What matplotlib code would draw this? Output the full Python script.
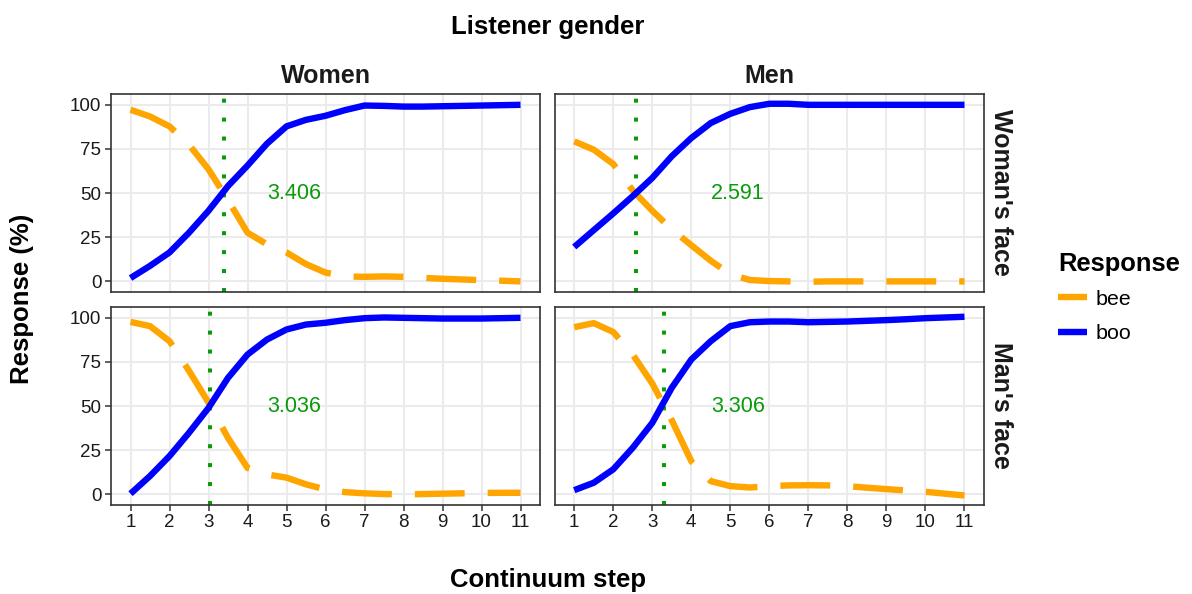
import numpy as np
import matplotlib
matplotlib.use('Agg')
import matplotlib.pyplot as plt

plt.rcParams['font.family'] = ['Liberation Sans', 'DejaVu Sans']

# continuum steps (values read every half step)
steps = np.arange(1, 11.5, 0.5)
listeners = ['Women', 'Men']
faces = ["Woman's face", "Man's face"]

# women listeners, woman's face
bee_w_wf = [97.2, 93.4, 87.8, 77.4, 63.5, 46, 27.6, 21, 16.4, 9.8, 5, 2.8, 2.6, 2.8, 2.6, 2, 1.5, 1.1, 0.7, 0.4, 0]
boo_w_wf = [1.9, 8.8, 16.4, 27.6, 40, 54, 65.6, 78, 87.8, 91.5, 93.8, 97, 99.6, 99.4, 99, 99, 99.2, 99.4, 99.6, 99.8, 100]
# men listeners, woman's face
bee_m_wf = [79.3, 74.6, 66.5, 51.5, 40, 29.5, 20.5, 11.7, 4, 0.8, 0.2, 0, -0.2, 0, 0, 0, 0, 0, 0, 0, 0]
boo_m_wf = [19.5, 29, 38.5, 48.3, 58.6, 70.9, 81.2, 89.7, 94.9, 98.7, 100.6, 100.6, 100, 100, 100, 100, 100, 100, 100, 100, 100]
# women listeners, man's face
bee_w_mf = [97.7, 95.3, 86.8, 70, 52, 32, 15, 11.3, 9.5, 5.7, 2.8, 1.3, 0.6, 0.2, 0, 0.2, 0.4, 0.6, 0.8, 0.9, 0.9]
boo_w_mf = [0.4, 10.4, 21.7, 34.9, 49, 66, 79.2, 87.7, 93.4, 96.2, 97.2, 98.7, 99.8, 100.2, 100, 99.8, 99.6, 99.6, 99.6, 99.8, 100]
# men listeners, man's face
bee_m_mf = [94.7, 97, 92, 79.2, 62.8, 42, 18.8, 7.5, 4.7, 3.9, 4.7, 5.1, 5.2, 5.1, 4.7, 3.8, 3, 2.2, 1.5, 0.4, -0.6]
boo_m_mf = [2.4, 6.6, 14.2, 26.4, 40.5, 60.4, 76.4, 86.8, 95.3, 97.5, 97.9, 97.9, 97.5, 97.7, 97.9, 98.3, 98.7, 99.2, 99.8, 100.2, 100.6]

# category boundaries (rows: face, cols: listener)
boundary = [[3.406, 2.591], [3.036, 3.306]]

bee = [[bee_w_wf, bee_m_wf], [bee_w_mf, bee_m_mf]]
boo = [[boo_w_wf, boo_m_wf], [boo_w_mf, boo_m_mf]]

W, H = 1192, 594
fig = plt.figure(figsize=(W / 100, H / 100), dpi=100)

col_x = [(111, 540), (554.7, 984)]
row_y = [(93.7, 292), (306.7, 505)]
green = '#0a9a0a'

for r in range(2):
    for c in range(2):
        x0, x1 = col_x[c]
        y0, y1 = row_y[r]
        ax = fig.add_axes([x0 / W, 1 - y1 / H, (x1 - x0) / W, (y1 - y0) / H])
        ax.set_xlim(0.5, 11.5)
        ax.set_ylim(-6, 106.3)
        ax.set_xticks(range(1, 12))
        ax.set_yticks([0, 25, 50, 75, 100])
        ax.grid(True, color='#EBEBEB', lw=1.5, zorder=0)
        ax.set_axisbelow(True)
        for s in ax.spines.values():
            s.set_color('#333333')
            s.set_linewidth(1.2)
        ax.tick_params(length=4, width=1.1, color='#333333', labelsize=13.5,
                       labelcolor='#1a1a1a')
        ax.tick_params(axis='y', pad=3)
        ax.tick_params(axis='x', pad=2.5)
        # facet grid: axes only on the outer panels
        if c == 1:
            ax.tick_params(axis='y', left=False, labelleft=False)
        if r == 0:
            ax.tick_params(axis='x', bottom=False, labelbottom=False)

        b = boundary[r][c]
        ax.axvline(b, color=green, lw=2.9, ls=(0, (1, 3.7)), dash_capstyle='butt', zorder=2)
        lb, = ax.plot(steps, bee[r][c], color='#FFA500', lw=4.6, ls=(0, (7.8, 3.6)),
                      dash_capstyle='butt', solid_capstyle='butt', zorder=3, label='bee')
        lo, = ax.plot(steps, boo[r][c], color='#0000FF', lw=4.6, solid_capstyle='butt',
                      solid_joinstyle='round', zorder=4, label='boo')
        ax.text(5.2, 50, f'{b:.3f}', color=green, fontsize=15.5, ha='center', va='center', zorder=5)

        if r == 0:
            ax.set_title(listeners[c], fontsize=18, fontweight='bold', color='#1a1a1a', pad=8)
        if c == 1:
            ax.text(1.04, 0.5, faces[r], transform=ax.transAxes, rotation=270,
                    fontsize=18, fontweight='bold', color='#1a1a1a', ha='center', va='center')

fig.text(547.5 / W, 1 - 27 / H, 'Listener gender', fontsize=18.5, fontweight='bold',
         ha='center', va='center')
fig.text(547.5 / W, 1 - 580 / H, 'Continuum step', fontsize=18.5, fontweight='bold',
         ha='center', va='center')
fig.text(22 / W, 1 - 299 / H, 'Response (%)', fontsize=18.5, fontweight='bold',
         ha='center', va='center', rotation=90)

leg = fig.legend(handles=[lb, lo], labels=['bee', 'boo'], loc='upper left',
                 bbox_to_anchor=(1058 / W, 1 - 252 / H), frameon=False, fontsize=15.4,
                 handlelength=1.35, handletextpad=0.4, labelspacing=0.72, borderpad=0,
                 borderaxespad=0, title='Response',
                 title_fontproperties={'weight': 'bold', 'size': 18.4})
leg._legend_box.align = 'left'
leg._legend_box.sep = 10

fig.savefig('out.png', dpi=100)
